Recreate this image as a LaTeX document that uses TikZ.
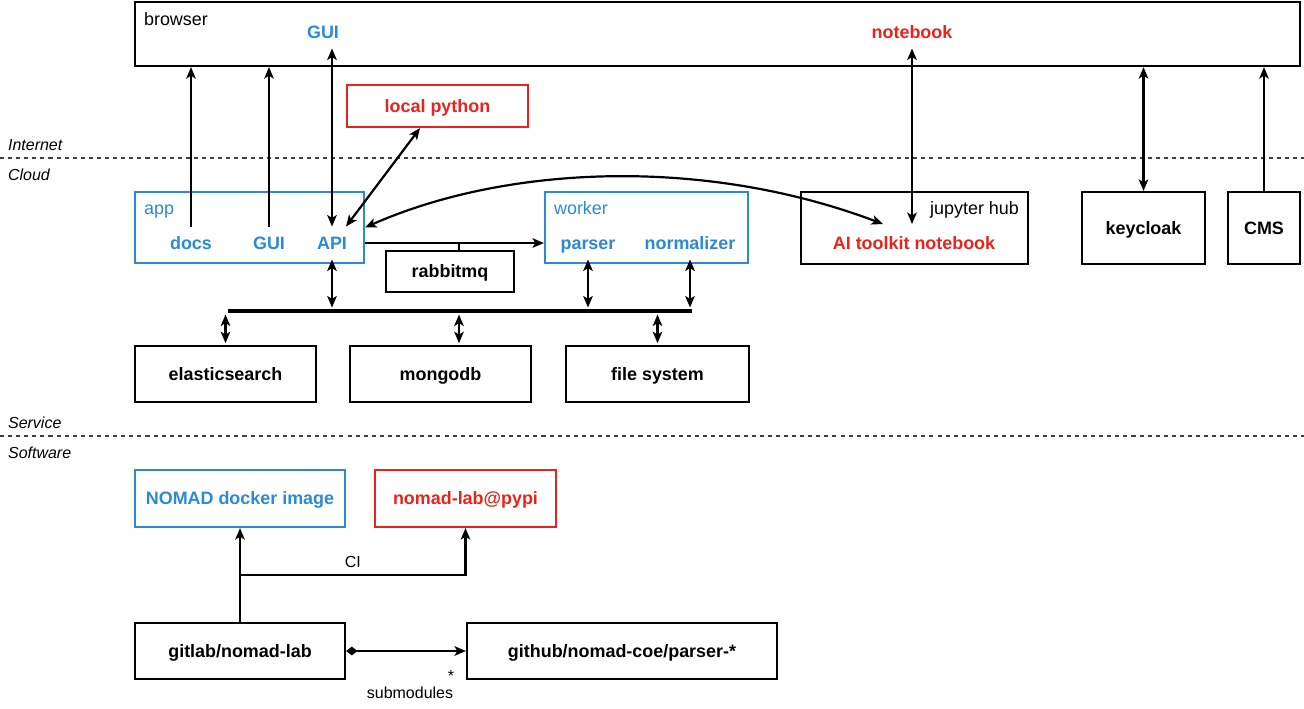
\documentclass[tikz,border=0pt]{standalone}
\usepackage{fontspec}
\setmainfont{Liberation Sans}
\usetikzlibrary{arrows.meta,positioning,calc}
\definecolor{nomadblue}{RGB}{42,138,212}
\definecolor{nomadred}{RGB}{232,35,27}

\begin{document}
\begin{tikzpicture}[x=0.02cm, y=-0.02cm, line width=1.25pt,
    >={Stealth[length=6.5pt,width=5.4pt,inset=1.6pt]},
    box/.style={rectangle, draw, font=\bfseries\fontsize{10.2}{12}\selectfont, text height=7.3pt, text depth=0pt, minimum height=1.12cm},
    bluebox/.style={box, draw=nomadblue, text=nomadblue},
    redbox/.style={box, draw=nomadred, text=nomadred},
    lbl/.style={font=\bfseries\fontsize{10.2}{12}\selectfont, text height=7.3pt, text depth=0pt, inner sep=5.1pt},
    bluetxt/.style={lbl, text=nomadblue},
    redtxt/.style={lbl, text=nomadred},
    tag/.style={font=\fontsize{10.2}{12}\selectfont, anchor=base west, inner sep=0pt},
    small/.style={font=\fontsize{9.1}{11}\selectfont},
    zone/.style={font=\itshape\fontsize{9.1}{11}\selectfont, anchor=base west, inner sep=0pt},
    zoneline/.style={line width=0.6pt, dash pattern=on 2.3pt off 2.3pt, black!75}]
    \useasboundingbox (0,0) rectangle (1304,708);

    % zones
    \draw[zoneline] (0,158) -- (1304,158);
    \draw[zoneline] (0,436) -- (1304,436);
    \node[zone] at (7,150) (internet) {Internet};
    \node[zone] at (7,180) (cloud) {Cloud};
    \node[zone] at (7,428) (service) {Service};
    \node[zone] at (7,458) (software) {Software};

    % internet
    \node[box, minimum width=23.3cm, minimum height=1.28cm] at (717.5,34) (browser) {};
    \node[tag] at (143,25) (browserLbl) {browser};
    \node[bluetxt] at (323,32) (bGUI) {GUI};
    \node[redtxt] at (912,32) (bNote) {notebook};
    \node[redbox, minimum width=3.62cm, minimum height=0.84cm] at (437.5,106) (localpy) {local python};

    % cloud
    \node[box, draw=nomadblue, minimum width=4.58cm, minimum height=1.42cm] at (249.5,227.5) (app) {};
    \node[tag, text=nomadblue] at (143,214.5) (appLbl) {app};
    \node[bluetxt] at (191,243) (docs) {docs};
    \node[bluetxt] at (269,243) (aGUI) {GUI};
    \node[bluetxt] at (332,243) (API) {API};

    \node[box, draw=nomadblue, minimum width=4.06cm, minimum height=1.42cm] at (646.5,227.5) (worker) {};
    \node[tag, text=nomadblue] at (553,214.5) (workerLbl) {worker};
    \node[bluetxt] at (588,243) (parser) {parser};
    \node[bluetxt] at (690,243) (norm) {normalizer};
    \node[box, minimum width=2.56cm, minimum height=0.82cm] at (450,271.5) (rabbit) {rabbitmq};

    \node[box, minimum width=4.54cm, minimum height=1.44cm] at (914.5,228) (jhub) {};
    \node[tag, anchor=base east] at (1020,214.5) (jhubLbl) {jupyter hub};
    \node[redtxt] at (914,243) (aitk) {AI toolkit notebook};
    \node[box, minimum width=2.46cm, minimum height=1.44cm] at (1143.5,228) (keycloak) {keycloak};
    \node[box, minimum width=1.44cm, minimum height=1.44cm] at (1264,228) (cms) {CMS};

    % service
    \node[box, minimum width=3.62cm] at (225.5,374) (es) {elasticsearch};
    \node[box, minimum width=3.62cm] at (440.5,374) (mongo) {mongodb};
    \node[box, minimum width=3.66cm] at (657.5,374) (fs) {file system};
    \coordinate (busL) at (228,311);
    \coordinate (busR) at (692,311);

    % software
    \node[bluebox, minimum width=4.2cm, minimum height=1.14cm] at (240,498.5) (docker) {NOMAD docker image};
    \node[redbox, minimum width=3.62cm, minimum height=1.14cm] at (465.5,498.5) (pypi) {nomad-lab@pypi};
    \node[box, minimum width=4.2cm] at (240,651) (gitlab) {gitlab/nomad-lab};
    \node[box, minimum width=6.2cm] at (622,651) (github) {github/nomad-coe/parser-*};
    \coordinate (ciFork) at (240,575);

    % browser links
    \draw[->] (docs.north) -- (docs.north |- browser.south);
    \draw[->] (aGUI.north) -- (aGUI.north |- browser.south);
    \draw[<->] (API.north) -- (API.north |- bGUI.south);
    \draw[<->] ([xshift=-0.35cm]localpy.south) -- ([xshift=-0.22cm]API.north east);
    \draw[<->] (app.east) .. controls +(140,-62) and +(-180,-68) .. ([xshift=-0.62cm,yshift=0.05cm]aitk.north);
    \draw[<->] (bNote.south) -- ([yshift=0.05cm]bNote.south |- aitk.north);
    \draw[<->] (keycloak.north) -- (keycloak.north |- browser.south);
    \draw[->] (cms.north) -- (cms.north |- browser.south);

    % queue
    \draw[->] (API.east -| app.east) -- (API.east -| worker.west);
    \draw ([xshift=0.18cm]rabbit.north) -- ([xshift=0.18cm]rabbit.north |- API.east);

    % bus
    \draw[line width=1.9pt] (busL) -- (busR);
    \draw[<->, shorten >=2pt] (API.south) -- (API.south |- busL);
    \draw[<->, shorten >=2pt] (parser.south) -- (parser.south |- busL);
    \draw[<->, shorten >=2pt] (norm.south) -- (norm.south |- busL);
    \draw[<->, shorten >=2pt, shorten <=1pt] (es.north) -- (es.north |- busL);
    \draw[<->, shorten >=2pt, shorten <=1pt] ([xshift=0.37cm]mongo.north) -- ([xshift=0.37cm]mongo.north |- busL);
    \draw[<->, shorten >=2pt, shorten <=1pt] (fs.north) -- (fs.north |- busL);

    % CI and submodules
    \draw[->] (gitlab.north) -- (docker.south);
    \draw[->] (ciFork) -| node[small, pos=0.25, above] (ciLbl) {CI} (pypi.south);
    \draw[{Diamond[length=6.5pt,width=5pt]}->] (gitlab.east) -- (github.west);
    \node[small] at (451,676) (star) {*};
    \node[small] at (410,693) (submod) {submodules};
\end{tikzpicture}
\end{document}
